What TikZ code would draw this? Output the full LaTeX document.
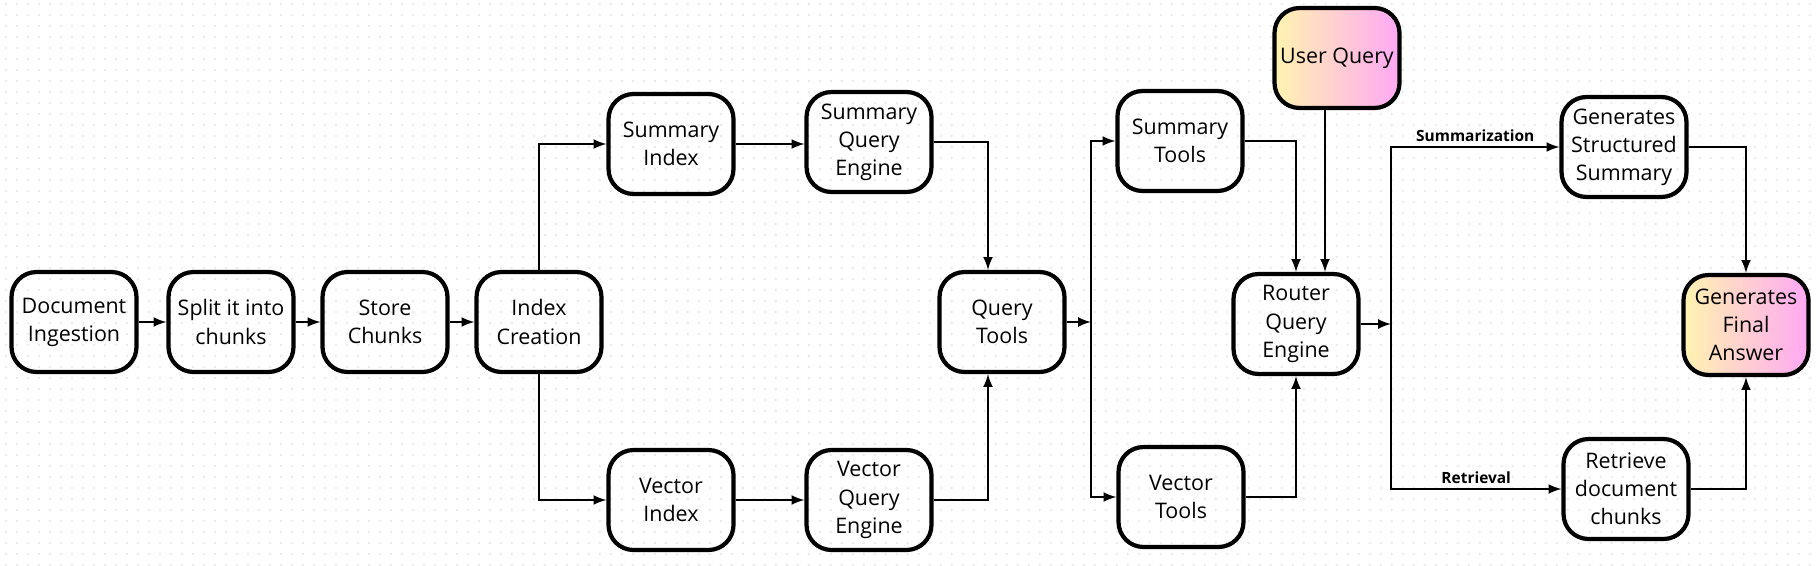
\documentclass[tikz,border=0pt]{standalone}
\usepackage{fontspec}
\setmainfont{Open Sans}
\usetikzlibrary{calc}
\definecolor{gradyellow}{HTML}{FFF3B0}
\definecolor{gradpink}{HTML}{FFA8F4}
\definecolor{griddot}{HTML}{EAEAEA}
\tikzset{
	% Two box styles for the pipeline: plain and shaded
	plain box/.style={draw,rounded corners=0.5cm,line width=2.4pt,minimum width=2.5cm,minimum height=2cm,align=center,inner sep=1pt},
	shaded box/.style={plain box,left color=gradyellow,right color=gradpink},
	flow/.style={->,>=latex,line width=1.5pt},
	branch label/.style={font=\fontsize{8.8}{10}\selectfont\bfseries,inner sep=2.5pt},
	dot row/.style={griddot,line width=1.6pt,line cap=round,dash pattern=on 0pt off 0.22cm}
}

\begin{document}
\begin{tikzpicture}[x=0.02cm,y=-0.02cm,font=\fontsize{12.2}{16}\selectfont]
	\useasboundingbox (0,0) rectangle (1818,565);
	% dotted background
	\foreach \j in {0,...,51}
		\draw[dot row] (6,\j*11+4) -- (1818,\j*11+4);
	
	% ingestion chain
	\node(0)[plain box] at (74,322) {Document\\Ingestion};
	\node(1)[plain box] at (231,322) {Split it into\\chunks};
	\node(2)[plain box] at (385,322) {Store\\Chunks};
	\node(3)[plain box] at (539,322) {Index\\Creation};
	% two indexes and their engines
	\node(3-1)[plain box] at (671,144) {Summary\\Index};
	\node(3-2)[plain box] at (671,500) {Vector\\Index};
	\node(3-1-1)[plain box] at (869,142) {Summary\\Query\\Engine};
	\node(3-2-1)[plain box] at (869,500) {Vector\\Query\\Engine};
	% tools and router
	\node(4)[plain box] at (1002,322) {Query\\Tools};
	\node(4-1)[plain box] at (1180,141) {Summary\\Tools};
	\node(4-2)[plain box] at (1181,497) {Vector\\Tools};
	\node(5)[plain box] at (1296,324) {Router\\Query\\Engine};
	\node(q)[shaded box] at (1337,58) {User Query};
	% answers
	\node(5-1)[plain box] at (1624,147) {Generates\\Structured\\Summary};
	\node(5-2)[plain box] at (1626,489) {Retrieve\\document\\chunks};
	\node(6)[shaded box] at (1746,325) {Generates\\Final\\Answer};
	
	\coordinate (j4) at (1091,322);
	\coordinate (j5) at (1391,324);
	\coordinate (qin) at ([xshift=-0.24cm]q.south);
	
	\draw[flow] (0) -- (1);
	\draw[flow] (1) -- (2);
	\draw[flow] (2) -- (3);
	\draw[flow] (3.north) |- (3-1.west);
	\draw[flow] (3.south) |- (3-2.west);
	\draw[flow] (3-1.east) -- (3-1.east -| 3-1-1.west);
	\draw[flow] (3-2.east) -- (3-2-1.west);
	\draw[flow] (3-1-1.east) -| ([xshift=-0.28cm]4.north);
	\draw[flow] (3-2-1.east) -| ([xshift=-0.28cm]4.south);
	\draw[flow] (4.east) -- (j4);
	\draw[flow] (j4) |- (4-1.west);
	\draw[flow] (j4) |- (4-2.west);
	\draw[flow] (4-1.east) -| (5.north);
	\draw[flow] (4-2.east) -| (5.south);
	\draw[flow] (qin) -- (qin |- 5.north);
	\draw[flow] (5.east) -- (j5);
	\draw[flow] (j5) |- node[branch label,above,pos=0.75]{Summarization} (5-1.west);
	\draw[flow] (j5) |- node[branch label,above,pos=0.75]{Retrieval} (5-2.west);
	\draw[flow] (5-1.east) -| (6.north);
	\draw[flow] (5-2.east) -| (6.south);
\end{tikzpicture}
\end{document}
